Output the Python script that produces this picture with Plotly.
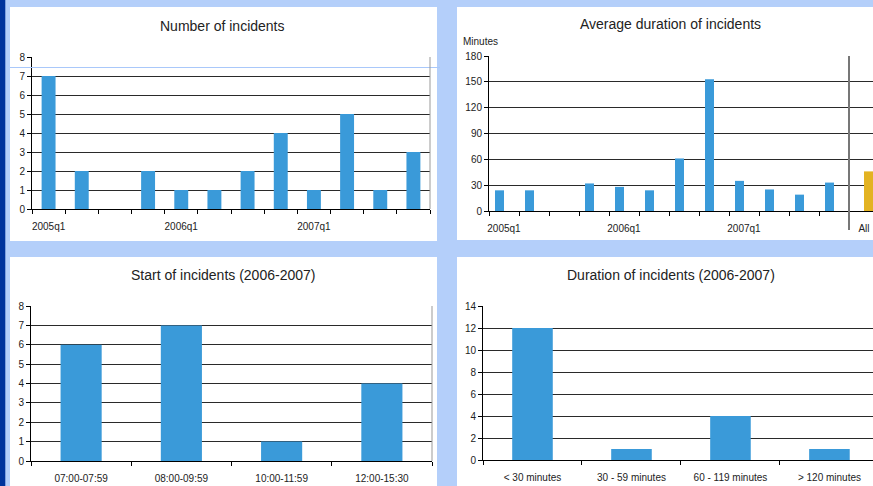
import plotly.graph_objects as go

W, H = 873, 486

# ---- data ----
quarters = ["2005q1", "2005q2", "2005q3", "2005q4", "2006q1", "2006q2", "2006q3", "2006q4",
            "2007q1", "2007q2", "2007q3", "2007q4"]
quarter_labels = ["2005q1", "", "", "", "2006q1", "", "", "", "2007q1", "", "", ""]
incidents = [7, 2, 0, 2, 1, 1, 2, 4, 1, 5, 1, 3]
avg_duration = [24, 24, None, 32, 28, 24, 61, 153, 35, 25, 19, 33]
all_cat = ["All"]
avg_all = [46]
start_cats = ["07:00-07:59", "08:00-09:59", "10:00-11:59", "12:00-15:30"]
start_counts = [6, 7, 1, 4]
dur_cats = ["< 30 minutes", "30 - 59 minutes", "60 - 119 minutes", "> 120 minutes"]
dur_counts = [12, 1, 4, 1]

titles = ["Number of incidents", "Average duration of incidents",
          "Start of incidents (2006-2007)", "Duration of incidents (2006-2007)"]

BLUE = "#3a9ad9"
ORANGE = "#e3b322"
BG = "#b4cffa"
FONT = "Liberation Sans, Arial, sans-serif"


def px(x):
    return x / W


def py(y):
    return 1 - y / H


fig = go.Figure()

fig.add_trace(go.Bar(x=quarters, y=incidents, marker_color=BLUE, width=0.42,
                     xaxis="x", yaxis="y", showlegend=False))
fig.add_trace(go.Bar(x=quarters, y=avg_duration, marker_color=BLUE, width=0.3, offset=-0.3,
                     xaxis="x2", yaxis="y2", showlegend=False))
fig.add_trace(go.Bar(x=all_cat, y=avg_all, marker_color=ORANGE, width=0.3, offset=0,
                     xaxis="x2", yaxis="y2", showlegend=False))
fig.add_trace(go.Bar(x=start_cats, y=start_counts, marker_color=BLUE, width=0.41,
                     xaxis="x3", yaxis="y3", showlegend=False))
fig.add_trace(go.Bar(x=dur_cats, y=dur_counts, marker_color=BLUE, width=0.41,
                     xaxis="x4", yaxis="y4", showlegend=False))


def xax(x0, x1, anchor, cats, labels, rng):
    return dict(domain=[px(x0), px(x1)], anchor=anchor, type="category",
                categoryorder="array", categoryarray=cats,
                tickmode="array", tickvals=cats, ticktext=labels, tickangle=0,
                tickson="boundaries", ticks="outside", ticklen=4, tickcolor="#000",
                ticklabelstandoff=8,
                showline=True, linecolor="#000", linewidth=1, showgrid=False,
                zeroline=False, automargin=False,
                range=rng, tickfont=dict(size=10, color="#222", family=FONT),
                fixedrange=True)


def yax(ytop, ybot, anchor, rng, dtick):
    return dict(domain=[py(ybot), py(ytop)], anchor=anchor, range=rng, dtick=dtick, tick0=0,
                ticks="outside", ticklen=4, tickcolor="#000", showline=True,
                linecolor="#000", linewidth=1, showgrid=True, gridcolor="#2a2a2a",
                gridwidth=1, zeroline=False, automargin=False,
                tickfont=dict(size=10, color="#222", family=FONT), fixedrange=True)


layout = dict(
    template="none",
    width=W, height=H, margin=dict(l=0, r=0, t=0, b=0, pad=0), autosize=False,
    paper_bgcolor=BG, plot_bgcolor="rgba(0,0,0,0)",
    font=dict(family=FONT, color="#222"),
    barmode="overlay", showlegend=False,
    xaxis=xax(32, 430, "y", quarters, quarter_labels, [-0.5, 11.5]),
    yaxis=yax(57, 209, "x", [0, 8], 1),
    xaxis2=xax(489, 873, "y2", quarters + all_cat, quarter_labels + all_cat, [-0.5, 12.3]),
    yaxis2=yax(56, 211, "x2", [0, 180], 30),
    xaxis3=xax(31, 432, "y3", start_cats, start_cats, [-0.5, 3.5]),
    yaxis3=yax(306, 461, "x3", [0, 8], 1),
    xaxis4=xax(483, 873, "y4", dur_cats, dur_cats, [-0.5, 3.44]),
    yaxis4=yax(306, 460, "x4", [0, 14], 2),
)
fig.update_layout(**layout)

shapes = []
# white panels
for (x0, y0, x1, y1) in [(10, 7, 437, 241), (457, 7, 873, 240), (10, 257, 437, 486), (457, 257, 873, 486)]:
    shapes.append(dict(type="rect", xref="paper", yref="paper", x0=px(x0), x1=px(x1),
                       y0=py(y1), y1=py(y0), fillcolor="white", line_width=0, layer="below"))
# dark strip at left edge
shapes.append(dict(type="rect", xref="paper", yref="paper", x0=0, x1=px(5.3), y0=0, y1=1,
                   fillcolor="#00349c", line_width=0, layer="above"))
# faint light-blue line crossing top-left panel
shapes.append(dict(type="line", xref="paper", yref="paper", x0=px(10), x1=px(440),
                   y0=py(67.5), y1=py(67.5), line=dict(color="#a9c8fa", width=1.2), layer="above"))
# right borders of plot areas (charts 1 and 3)
shapes.append(dict(type="line", xref="x domain", yref="y domain", x0=1, x1=1, y0=0, y1=1,
                   line=dict(color="#999", width=1)))
shapes.append(dict(type="line", xref="x3 domain", yref="y3 domain", x0=1, x1=1, y0=0, y1=1,
                   line=dict(color="#999", width=1)))
# separator before "All"
sep_x = -0.5 + len(quarters)
shapes.append(dict(type="line", xref="x2", yref="paper", x0=sep_x, x1=sep_x,
                   y0=py(230), y1=py(56), line=dict(color="#777", width=2)))
fig.update_layout(shapes=shapes)

annotations = []
for t, (cx, cy) in zip(titles, [(223, 26), (670, 24), (223, 275), (671, 275)]):
    annotations.append(dict(text=t, xref="paper", yref="paper", x=px(cx), y=py(cy),
                            xanchor="center", yanchor="middle", showarrow=False,
                            font=dict(size=14, color="#222", family=FONT)))
annotations.append(dict(text="Minutes", xref="paper", yref="paper", x=px(461), y=py(42),
                        xanchor="left", yanchor="middle", showarrow=False,
                        font=dict(size=10, color="#222", family=FONT)))
fig.update_layout(annotations=annotations)

fig.write_html("out.html")
